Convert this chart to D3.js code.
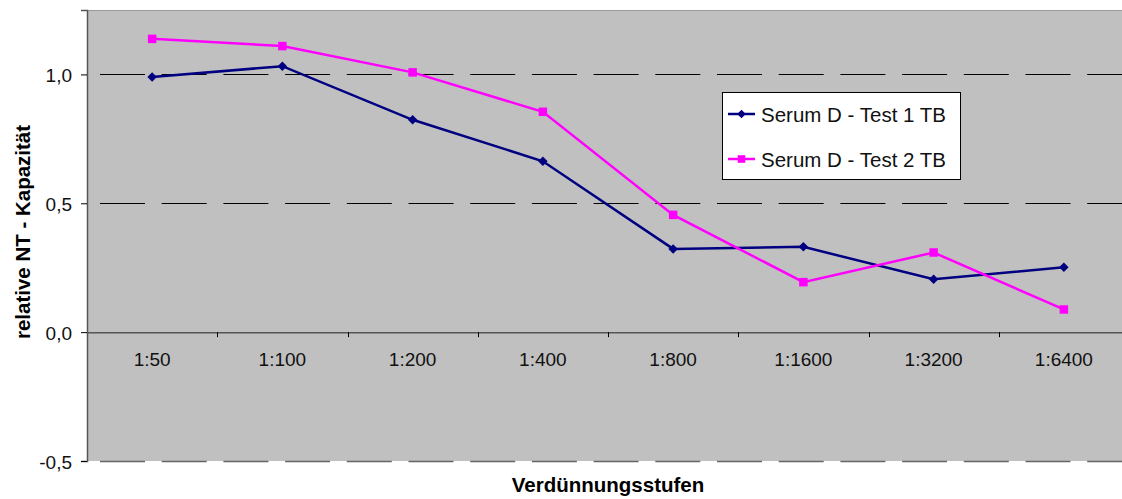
<!DOCTYPE html>
<html>
<head>
<meta charset="utf-8">
<script src="https://cdn.jsdelivr.net/npm/d3@7"></script>
<style>
  body { margin: 0; background: #fff; }
  text { font-family: "Liberation Sans", Arial, sans-serif; }
</style>
</head>
<body>
<div id="chart"></div>
<script>
// categories and values
var categories = ["1:50", "1:100", "1:200", "1:400", "1:800", "1:1600", "1:3200", "1:6400"];
var test1 = [0.99, 1.032, 0.824, 0.663, 0.323, 0.331, 0.205, 0.252];
var test2 = [1.138, 1.110, 1.008, 0.855, 0.455, 0.194, 0.309, 0.088];
var yTicks = [-0.5, 0, 0.5, 1.0];
var seriesNames = ["Serum D - Test 1 TB", "Serum D - Test 2 TB"];

var width = 1122, height = 499;
var plotLeft = 87, plotRight = 1129, plotTop = 10, plotBottom = 461;
var tickFont = "19px", titleFont = "20.5px";

var svg = d3.select("#chart").append("svg")
            .attr("width", width)
            .attr("height", height);

var x = d3.scaleBand().domain(categories).range([plotLeft, plotRight]);
var y = d3.scaleLinear().domain([-0.5, 1.25]).range([plotBottom, plotTop]);

// plot area
svg.append("rect")
   .attr("x", plotLeft).attr("y", plotTop)
   .attr("width", plotRight - plotLeft).attr("height", plotBottom - plotTop)
   .attr("fill", "#c0c0c0");

// top border
svg.append("line")
   .attr("x1", plotLeft).attr("x2", plotRight)
   .attr("y1", plotTop + 0.5).attr("y2", plotTop + 0.5)
   .attr("stroke", "#999").attr("stroke-width", 1);

// dashed gridlines
svg.selectAll(".grid")
   .data(yTicks.filter(function(d) { return d !== 0; }))
   .enter().append("line")
   .attr("class", "grid")
   .attr("x1", plotLeft).attr("x2", plotRight)
   .attr("y1", function(d) { return Math.round(y(d)) + 0.5; })
   .attr("y2", function(d) { return Math.round(y(d)) + 0.5; })
   .attr("stroke", function(d) { return d === -0.5 ? "#666" : "#000"; })
   .attr("stroke-width", function(d) { return d === -0.5 ? 1.5 : 1; })
   .attr("stroke-dasharray", "45,16.7")
   .attr("stroke-dashoffset", -13);

// y axis (German decimal comma, plain hyphen for minus)
var yAxis = d3.axisLeft(y)
              .tickValues(yTicks)
              .tickSize(6)
              .tickFormat(function(d) { return d.toFixed(1).replace(".", ","); });
var gy = svg.append("g")
            .attr("transform", "translate(" + plotLeft + ",0)")
            .call(yAxis);
gy.select(".domain").attr("stroke", "#555").attr("stroke-width", 1.5);
gy.selectAll(".tick line").attr("stroke", "#000");
gy.selectAll(".tick text")
  .attr("x", -15)
  .attr("dy", "0.38em")
  .attr("font-size", tickFont)
  .attr("fill", "#111")
  .style("font-family", "Liberation Sans, Arial, sans-serif");

// x axis at zero
var xAxis = d3.axisBottom(x).tickSize(0);
var gx = svg.append("g")
            .attr("transform", "translate(0," + y(0) + ")")
            .call(xAxis);
gx.select(".domain").attr("stroke", "#555").attr("stroke-width", 1.5);
gx.selectAll(".tick text")
  .attr("y", 34)
  .attr("dy", "0")
  .attr("font-size", tickFont)
  .attr("fill", "#111")
  .style("font-family", "Liberation Sans, Arial, sans-serif");

// category boundary ticks
svg.selectAll(".xtick")
   .data(categories.slice(1))
   .enter().append("line")
   .attr("class", "xtick")
   .attr("x1", function(d) { return Math.round(x(d)) + 0.5; })
   .attr("x2", function(d) { return Math.round(x(d)) + 0.5; })
   .attr("y1", y(0)).attr("y2", y(0) + 5)
   .attr("stroke", "#000");

// lines
var line = d3.line()
             .x(function(d, i) { return x(categories[i]) + x.bandwidth() / 2; })
             .y(function(d) { return y(d); });

// diamond = square turned by 45 degrees
var series = [
  { values: test1, color: "#000080", size: 45, rot: 45 },
  { values: test2, color: "#ff00ff", size: 72, rot: 0 }
];

series.forEach(function(s) {
  svg.append("path")
     .datum(s.values)
     .attr("d", line)
     .attr("fill", "none")
     .attr("stroke", s.color)
     .attr("stroke-width", 2.5);

  svg.selectAll(null)
     .data(s.values)
     .enter().append("path")
     .attr("transform", function(d, i) {
         return "translate(" + (x(categories[i]) + x.bandwidth() / 2) + "," + y(d) + ") rotate(" + s.rot + ")";
     })
     .attr("d", d3.symbol().type(d3.symbolSquare).size(s.size))
     .attr("fill", s.color);
});

// legend
var lg = svg.append("g");
lg.append("rect")
  .attr("x", 722.5).attr("y", 92.5)
  .attr("width", 238).attr("height", 87)
  .attr("fill", "#fff").attr("stroke", "#000");

series.forEach(function(s, i) {
  var ly = 114 + i * 45;
  lg.append("line")
    .attr("x1", 728).attr("x2", 755)
    .attr("y1", ly).attr("y2", ly)
    .attr("stroke", s.color).attr("stroke-width", 2.5);
  lg.append("path")
    .attr("transform", "translate(741.5," + ly + ") rotate(" + s.rot + ")")
    .attr("d", d3.symbol().type(d3.symbolSquare).size(s.size * 0.8))
    .attr("fill", s.color);
  lg.append("text")
    .attr("x", 761).attr("y", ly + 7.5)
    .attr("font-size", "20.5px")
    .attr("fill", "#111")
    .text(seriesNames[i]);
});

// axis titles
svg.append("text")
   .attr("x", (plotLeft + plotRight) / 2)
   .attr("y", 492)
   .attr("text-anchor", "middle")
   .attr("font-size", titleFont)
   .attr("font-weight", "bold")
   .text("Verdünnungsstufen");

svg.append("text")
   .attr("transform", "translate(30,232) rotate(-90)")
   .attr("text-anchor", "middle")
   .attr("font-size", titleFont)
   .attr("font-weight", "bold")
   .text("relative NT - Kapazität");
</script>
</body>
</html>
